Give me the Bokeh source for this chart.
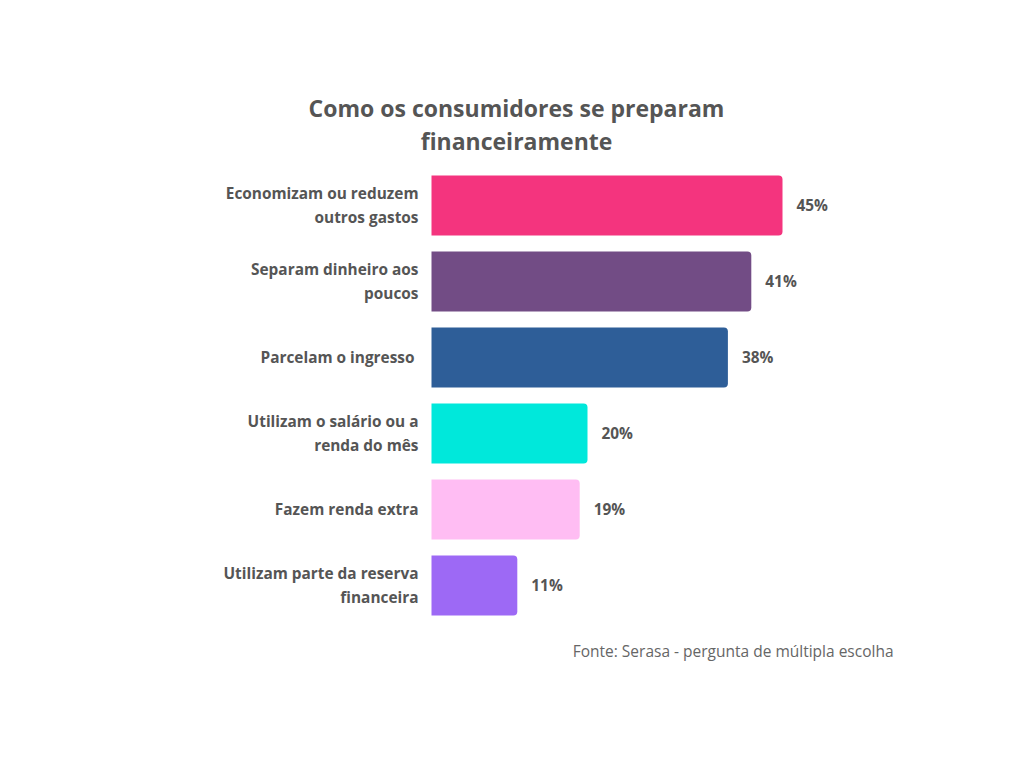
from bokeh.plotting import figure
from bokeh.models import ColumnDataSource, Range1d
from bokeh.core.properties import value
from bokeh.embed import file_html
from bokeh.resources import INLINE

# Données
categorias = ["Economizam ou reduzem\noutros gastos",
              "Separam dinheiro aos\npoucos",
              "Parcelam o ingresso ",
              "Utilizam o salário ou a\nrenda do mês",
              "Fazem renda extra",
              "Utilizam parte da reserva\nfinanceira"]
valores = [45, 41, 38, 20, 19, 11]
rotulos = ["45%", "41%", "38%", "20%", "19%", "11%"]
cores = ["#F4347E", "#724C85", "#2E5E98", "#00E8DB", "#FFBDF3", "#9D69F5"]

titulo = "Como os consumidores se preparam\nfinanceiramente"
fonte = "Fonte: Serasa - pergunta de múltipla escolha"

FONT = value("Open Sans")
W, H = 1008, 754
px_x = 7.8    # pixels par %
px_y = 76.0   # pixels par rangée

x0 = -431 / px_x
y1 = 205 / px_y

source = ColumnDataSource(dict(
    y=[-i for i in range(len(valores))],
    val=valores,
    lab=rotulos,
    cat=categorias,
    cor=cores,
    vx=[v + 14 / px_x for v in valores],
))

p = figure(width=W, height=H, output_backend="svg", toolbar_location=None,
           x_range=Range1d(x0, x0 + W / px_x), y_range=Range1d(y1 - H / px_y, y1),
           min_border=0)
p.axis.visible = False
p.grid.visible = False
p.outline_line_color = None
p.background_fill_color = "white"
p.border_fill_color = "white"

p.hbar(y="y", left=0, right="val", height=60 / px_y, fill_color="cor",
       line_color=None, border_radius=(0, 4, 4, 0), source=source)

# étiquettes des catégories
p.text(x=-13 / px_x, y="y", text="cat", source=source, text_align="right",
       text_baseline="middle", text_font=FONT, text_font_style="bold",
       text_font_size="15.4px", text_color="#555555", text_line_height=1.12)

# valeurs
p.text(x="vx", y="y", text="lab", source=source, text_align="left",
       text_baseline="middle", text_font=FONT, text_font_style="bold",
       text_font_size="15.4px", text_color="#555555")

# titre
p.text(x=[(516 - 431) / px_x], y=[(205 - 124) / px_y], text=[titulo],
       text_align="center", text_baseline="middle", text_font=FONT,
       text_font_style="bold", text_font_size="23px", text_color="#555555",
       text_line_height=1.03)

# source
p.text(x=[(893 - 431) / px_x], y=[-(650 - 205) / px_y], text=[fonte],
       text_align="right", text_baseline="middle", text_font=FONT,
       text_font_size="15.5px", text_color="#666666")

open("out.html", "w").write(file_html(p, INLINE))
